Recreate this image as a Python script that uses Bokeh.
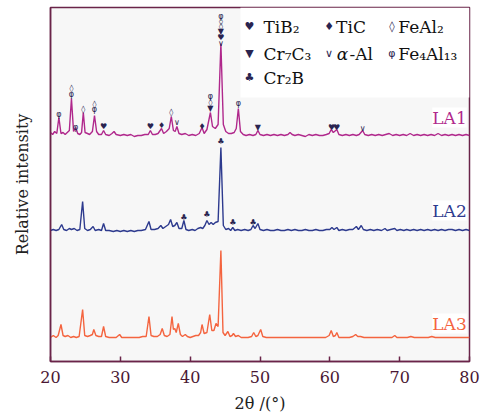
import numpy as np
from bokeh.plotting import figure
from bokeh.models import ColumnDataSource, Label, FixedTicker, BoxAnnotation, Range1d
from bokeh.core.properties import value
from bokeh.embed import file_html
from bokeh.resources import INLINE

# ---------------- data (2theta in degrees, intensity above each pattern's baseline) -------------
la1_2theta = [20.0, 20.3, 20.6, 20.9, 21.2, 21.5, 21.8, 22.1, 22.4, 22.7, 23.0, 23.3, 23.6, 23.9, 24.2, 24.45,
              24.7, 24.95, 25.3, 25.6, 26.0, 26.3, 26.6, 26.9, 27.3, 27.6, 27.9, 28.4, 28.8, 29.1, 29.4, 30.0,
              30.5, 31.0, 31.5, 32.0, 32.5, 33.0, 33.5, 34.0, 34.3, 34.6, 35.0, 35.4, 35.9, 36.2, 36.6, 37.0,
              37.3, 37.6, 37.85, 38.1, 38.4, 38.8, 39.3, 39.8, 40.3, 40.8, 41.3, 41.7, 42.0, 42.4, 42.9, 43.2,
              43.6, 44.0, 44.4, 44.75, 45.1, 45.5, 45.9, 46.3, 46.6, 46.9, 47.2, 47.6, 48.0, 48.5, 49.0, 49.4,
              49.7, 50.0, 50.5, 51.0, 51.5, 52.0, 52.5, 53.0, 53.5, 54.0, 54.3, 54.6, 55.0, 55.5, 56.0, 56.5,
              57.0, 57.5, 58.0, 58.5, 59.0, 59.5, 59.9, 60.2, 60.5, 61.0, 61.3, 61.8, 62.3, 62.8, 63.3, 63.8,
              64.2, 64.7, 65.0, 65.5, 66.0, 66.5, 67.0, 67.5, 68.0, 68.5, 69.0, 69.5, 70.0, 70.5, 71.0, 71.5,
              72.0, 72.5, 73.0, 73.5, 74.0, 74.5, 75.0, 75.5, 76.0, 76.5, 77.0, 77.5, 78.0, 78.5, 79.0, 79.5, 80.0]
la1_intensity = [4, 2, 5, 3, 19, 3, 4, 2, 4, 6, 38, 5, 9, 3, 2, 4,
                 24, 4, 3, 2, 5, 21, 5, 2, 2, 6, 2, 1, 3, 5, 2, 1,
                 2, 1, 2, 0, 1, 1, 2, 2, 6, 2, 2, 3, 8, 3, 5, 8,
                 20, 6, 5, 10, 3, 2, 3, 1, 2, 1, 3, 9, 3, 7, 24, 10,
                 8, 12, 93, 12, 5, 3, 3, 4, 8, 28, 5, 2, 1, 2, 1, 2,
                 6, 2, 1, 2, 1, 2, 1, 2, 1, 2, 4, 2, 1, 2, 1, 0,
                 2, 1, 2, 1, 1, 2, 3, 7, 4, 7, 2, 1, 2, 1, 2, 1,
                 2, 6, 2, 1, 2, 1, 2, 1, 2, 3, 1, 2, 1, 2, 1, 3,
                 1, 2, 1, 2, 1, 2, 1, 3, 1, 2, 1, 2, 1, 2, 1, 2, 1]

la2_2theta = [20.0, 20.4, 20.8, 21.2, 21.6, 21.9, 22.3, 22.7, 23.0, 23.4, 23.8, 24.2, 24.6, 24.9, 25.3, 25.7,
              26.1, 26.4, 26.9, 27.3, 27.6, 27.9, 28.4, 29.0, 29.5, 30.0, 30.5, 31.0, 31.5, 32.0, 32.5, 33.0,
              33.6, 34.1, 34.4, 34.9, 35.4, 35.8, 36.1, 36.5, 36.9, 37.2, 37.5, 37.8, 38.1, 38.4, 38.8, 39.1,
              39.4, 39.8, 40.3, 40.7, 41.1, 41.5, 41.8, 42.1, 42.4, 42.7, 43.0, 43.3, 43.6, 44.0, 44.4, 44.75,
              45.1, 45.5, 45.8, 46.1, 46.4, 46.8, 47.3, 47.8, 48.3, 48.7, 49.0, 49.3, 49.7, 50.0, 50.5, 51.0,
              51.5, 52.0, 52.5, 53.0, 53.5, 54.0, 54.5, 55.0, 55.5, 56.0, 56.5, 57.0, 57.5, 58.0, 58.5, 59.0,
              59.5, 60.0, 60.3, 60.6, 61.0, 61.3, 61.8, 62.3, 62.8, 63.3, 63.8, 64.1, 64.5, 64.8, 65.3, 65.8,
              66.3, 66.8, 67.4, 67.9, 68.2, 68.7, 69.3, 69.6, 70.1, 70.6, 71.0, 71.5, 72.0, 72.5, 73.0, 73.5,
              74.0, 74.5, 75.0, 75.5, 76.0, 76.5, 77.0, 77.5, 78.0, 78.5, 79.0, 79.5, 80.0]
la2_intensity = [1, 2, 1, 2, 7, 2, 1, 3, 2, 3, 1, 2, 30, 3, 1, 2,
                 5, 1, 2, 1, 8, 1, 1, 0, 1, 0, 1, 0, 1, 0, 1, 1,
                 2, 10, 2, 2, 3, 6, 3, 5, 7, 12, 5, 6, 9, 3, 3, 11,
                 2, 1, 2, 1, 3, 4, 3, 6, 11, 7, 9, 7, 9, 10, 84, 6,
                 2, 3, 1, 4, 1, 2, 1, 2, 1, 2, 6, 3, 8, 2, 1, 2,
                 1, 1, 2, 1, 1, 2, 1, 2, 1, 1, 2, 1, 1, 2, 1, 1,
                 2, 2, 4, 2, 4, 1, 2, 1, 2, 2, 5, 2, 6, 2, 1, 2,
                 1, 2, 1, 3, 1, 2, 3, 1, 2, 1, 2, 1, 2, 1, 2, 1,
                 2, 1, 2, 1, 2, 1, 2, 2, 1, 2, 1, 2, 1]

la3_2theta = [20.0, 20.4, 20.8, 21.1, 21.5, 21.8, 22.1, 22.5, 22.9, 23.3, 23.7, 24.1, 24.6, 24.9, 25.3, 25.7,
              26.0, 26.2, 26.5, 26.9, 27.3, 27.6, 27.9, 28.4, 28.9, 29.4, 29.9, 30.2, 30.7, 31.2, 31.7, 32.2,
              32.7, 33.2, 33.7, 34.1, 34.4, 34.8, 35.3, 35.7, 36.0, 36.3, 36.7, 37.1, 37.4, 37.6, 37.8, 38.0,
              38.3, 38.6, 38.9, 39.3, 39.6, 40.0, 40.4, 40.8, 41.2, 41.5, 41.7, 42.0, 42.4, 42.8, 43.1, 43.4,
              43.7, 44.0, 44.4, 44.7, 45.0, 45.4, 45.7, 46.0, 46.2, 46.5, 46.9, 47.3, 47.8, 48.3, 48.8, 49.1,
              49.4, 49.7, 50.1, 50.4, 50.9, 51.4, 51.9, 52.4, 52.9, 53.4, 53.9, 54.4, 54.9, 55.4, 55.9, 56.4,
              56.9, 57.4, 57.9, 58.4, 58.9, 59.4, 59.9, 60.2, 60.5, 60.8, 61.0, 61.3, 61.8, 62.3, 62.8, 63.3,
              63.7, 64.0, 64.4, 64.9, 65.4, 65.9, 66.4, 66.9, 67.4, 67.9, 68.4, 68.9, 69.3, 69.6, 70.1, 70.6,
              71.1, 71.6, 72.1, 72.6, 73.1, 73.6, 74.1, 74.6, 75.1, 75.6, 76.1, 76.6, 77.1, 77.6, 78.1, 78.6,
              79.1, 79.6, 80.0]
la3_intensity = [1, 3, 1, 3, 14, 3, 2, 3, 1, 2, 1, 2, 29, 3, 2, 3,
                 4, 9, 3, 2, 2, 12, 2, 1, 1, 1, 4, 1, 1, 1, 1, 1,
                 1, 2, 2, 22, 3, 2, 2, 4, 10, 3, 2, 4, 22, 9, 10, 6,
                 15, 4, 2, 4, 2, 1, 2, 3, 3, 6, 14, 5, 6, 24, 8, 8,
                 15, 12, 88, 6, 3, 7, 2, 3, 5, 2, 3, 1, 1, 1, 2, 6,
                 2, 3, 9, 2, 1, 1, 1, 1, 1, 1, 1, 1, 1, 1, 1, 1,
                 1, 1, 1, 1, 1, 1, 3, 8, 2, 3, 6, 1, 1, 1, 1, 2,
                 4, 2, 2, 1, 1, 1, 1, 1, 1, 1, 1, 1, 3, 1, 1, 1,
                 1, 2, 1, 1, 1, 1, 1, 2, 1, 1, 1, 1, 1, 1, 1, 1,
                 1, 1, 1]

# phase identification markers (2theta, height above baseline, phase)
la1_mark_2theta = [21.2, 23.0, 23.0, 23.6, 24.7, 26.3, 26.3, 27.6, 34.3, 35.9, 37.3, 38.1, 41.7,
                   42.9, 42.9, 42.9, 44.4, 44.4, 44.4, 44.4, 44.4, 44.4, 46.9, 49.7, 60.24, 60.96, 64.7]
la1_mark_height = [22, 48, 42, 9, 27, 32, 27, 10, 10, 11, 24, 14, 10,
                   40, 34, 28, 120, 115, 110, 105, 99, 93, 33, 9, 9, 9, 8]
la1_mark_phase = ["Fe4Al13", "FeAl2", "Fe4Al13", "Fe4Al13", "FeAl2", "FeAl2", "Fe4Al13", "TiB2", "TiB2",
                  "TiC", "FeAl2", "Al", "TiC", "Fe4Al13", "FeAl2", "Cr7C3", "Fe4Al13", "FeAl2", "FeAl2",
                  "Cr7C3", "TiB2", "Al", "Fe4Al13", "Cr7C3", "TiB2", "TiB2", "Al"]
la2_mark_2theta = [39.1, 42.4, 44.4, 46.1, 49.0]
la2_mark_height = [14, 17, 90, 9, 9]
la2_mark_phase = ["Cr2B", "Cr2B", "Cr2B", "Cr2B", "Cr2B"]

phases = ["TiB2", "Cr7C3", "Cr2B", "TiC", "Al", "FeAl2", "Fe4Al13"]
phase_symbols = ["♥", "▼", "♣", "♦", "∨", "◊", "φ"]
x_ticks = [20, 30, 40, 50, 60, 70, 80]
sample_names = ["LA1", "LA2", "LA3"]

# ---------------- layout / style -------------
offsets = [225, 130, 23]
colors = ["#b0288c", "#2d3a8e", "#f4643f"]
frame_color = "#6a2449"
mark_color = "#2a2450"
sym = dict(zip(phases, phase_symbols))

p = figure(width=482, height=420, output_backend="svg", toolbar_location=None,
           x_range=Range1d(20, 80), y_range=Range1d(0, 354),
           min_border_left=50, min_border_right=13, min_border_top=7, min_border_bottom=59)
p.background_fill_color = "#f7f7f7"
p.border_fill_color = "white"
p.outline_line_color = frame_color
p.outline_line_width = 1.5
p.grid.visible = False

# legend white background
p.add_layout(BoxAnnotation(left=47.2, right=80, bottom=264, top=354, fill_color="white",
                           fill_alpha=1, line_color=None, level="underlay"))

for xs, ys, off, c in zip([la1_2theta, la2_2theta, la3_2theta],
                          [la1_intensity, la2_intensity, la3_intensity], offsets, colors):
    p.line(np.array(xs), np.array(ys) + off, line_color=c, line_width=1.4)

mk = ColumnDataSource(dict(
    x=la1_mark_2theta + la2_mark_2theta,
    y=list(np.array(la1_mark_height) + offsets[0]) + list(np.array(la2_mark_height) + offsets[1]),
    t=[sym[s] for s in la1_mark_phase] + [sym[s] for s in la2_mark_phase]))
p.text(x="x", y="y", text="t", source=mk, text_font=value("DejaVu Sans"), text_font_size="8px",
       text_color=mark_color, text_align="center", text_baseline="middle")

serif = "DejaVu Serif"
# sample labels
for name, yy, c in zip(sample_names, [244, 151, 38], colors):
    p.add_layout(Label(x=79.6, y=yy, text=name, text_font=serif, text_font_size="17px", text_color=c,
                       text_align="right", text_baseline="middle", background_fill_color="white"))

# legend
leg_text = {"TiB2": "TiB₂", "Cr7C3": "Cr₇C₃", "Cr2B": "Cr₂B", "TiC": "TiC", "Al": "-Al",
            "FeAl2": "FeAl₂", "Fe4Al13": "Fe₄Al₁₃"}
leg_pos = {"TiB2": (48.5, 50.5, 335), "Cr7C3": (48.5, 50.5, 308), "Cr2B": (48.5, 50.5, 284),
           "TiC": (59.9, 60.9, 335), "Al": (59.9, 62.8, 308),
           "FeAl2": (68.9, 69.8, 335), "Fe4Al13": (68.9, 69.8, 308)}
for ph in phases:
    sx, tx, yy = leg_pos[ph]
    p.add_layout(Label(x=sx, y=yy, text=sym[ph], text_font="DejaVu Sans", text_font_size="11px",
                       text_color=mark_color, text_align="center", text_baseline="middle"))
    p.add_layout(Label(x=tx, y=yy, text=leg_text[ph], text_font=serif, text_font_size="17px",
                       text_color="#111111", text_align="left", text_baseline="middle"))
p.add_layout(Label(x=61.0, y=308, text="α", text_font=serif, text_font_size="17px",
                   text_font_style="italic", text_color="#111111", text_align="left", text_baseline="middle"))

# axes
p.xaxis.ticker = FixedTicker(ticks=x_ticks)
p.xaxis.minor_tick_line_color = None
p.xaxis.major_tick_in = 5
p.xaxis.major_tick_out = 0
p.xaxis.major_tick_line_color = frame_color
p.xaxis.major_tick_line_width = 1.5
p.xaxis.axis_line_color = frame_color
p.xaxis.axis_line_width = 1.5
p.xaxis.major_label_text_font = serif
p.xaxis.major_label_text_font_size = "16px"
p.xaxis.major_label_text_color = "#4a1733"
p.xaxis.major_label_standoff = 9
p.xaxis.axis_label = "2θ /(°)"
p.xaxis.axis_label_text_font = serif
p.xaxis.axis_label_text_font_style = "normal"
p.xaxis.axis_label_text_font_size = "16px"
p.xaxis.axis_label_text_color = "#222222"
p.xaxis.axis_label_standoff = 8

p.yaxis.ticker = FixedTicker(ticks=[])
p.yaxis.minor_tick_line_color = None
p.yaxis.major_tick_line_color = None
p.yaxis.axis_line_color = frame_color
p.yaxis.axis_line_width = 1.5
p.yaxis.axis_label = "Relative intensity"
p.yaxis.axis_label_text_font = serif
p.yaxis.axis_label_text_font_style = "normal"
p.yaxis.axis_label_text_font_size = "16px"
p.yaxis.axis_label_text_color = "#222222"
p.yaxis.axis_label_standoff = 19

open("out.html", "w").write(file_html(p, INLINE))
